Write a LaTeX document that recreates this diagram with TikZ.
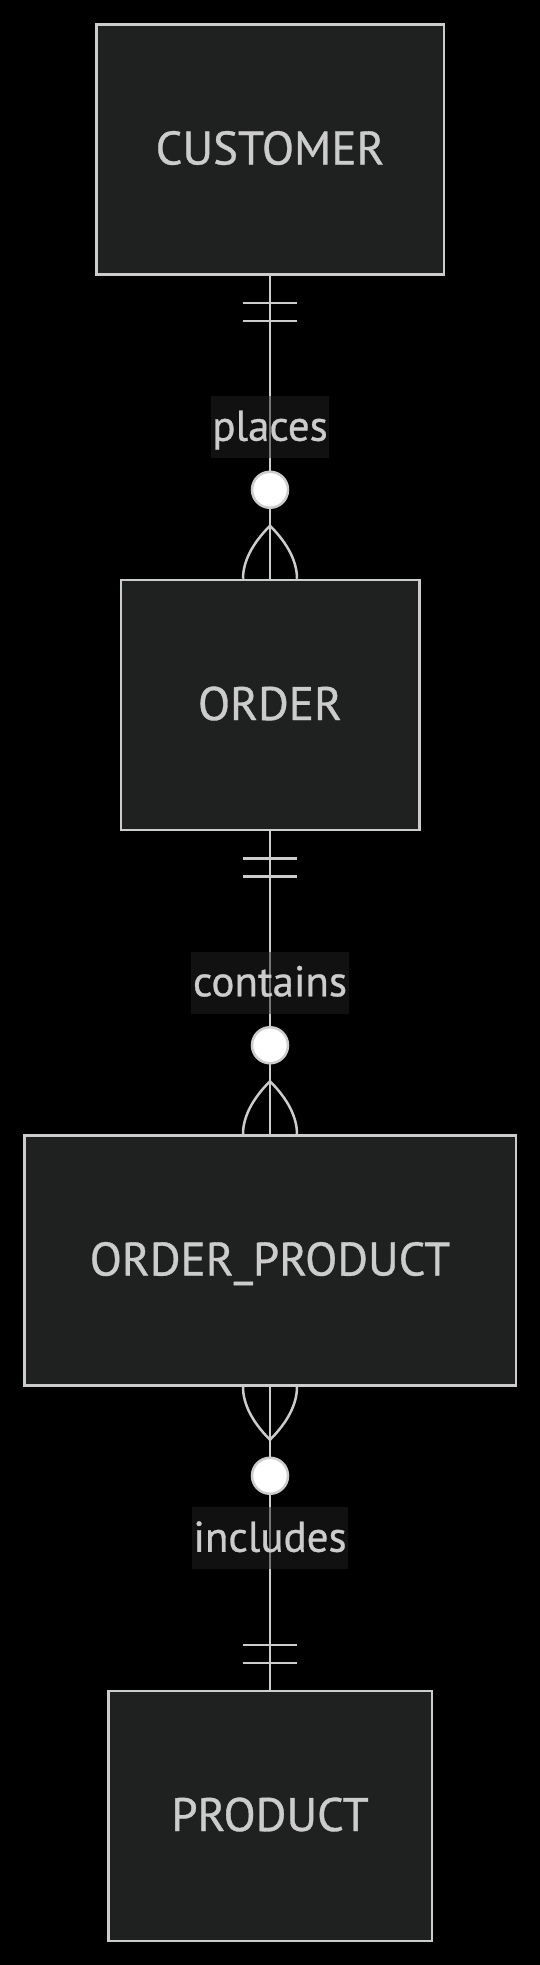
\documentclass[tikz,border=0pt]{standalone}
\usepackage{fontspec}
\setmainfont{PT Sans}
\newfontfamily\erfont{PT Sans}[FakeBold=0.7]
\definecolor{erline}{HTML}{CCCCCC}
\definecolor{erfill}{HTML}{1F2020}
\definecolor{ertext}{HTML}{CCCCCC}
\definecolor{erlabel}{HTML}{222222}
\begin{document}
\begin{tikzpicture}[x=1pt,y=1pt,yscale=-1,
	entity/.style={draw=erline,fill=erfill,line width=2.5pt,text=ertext,font=\erfont\fontsize{47}{56}\selectfont,text height=30pt,text depth=0pt,minimum height=250pt,inner sep=0pt},
	relline/.style={draw=erline,line width=2.5pt},
	rellabel/.style={fill=erlabel,fill opacity=0.5,text opacity=1,text=ertext,font=\erfont\fontsize{43}{52}\selectfont,text height=27pt,text depth=0pt,minimum height=62pt,inner xsep=1.5pt,inner ysep=0pt},
	onlyone/.pic={\draw [relline] (-27,27) -- (27,27) (-27,45) -- (27,45);},
	zeromany/.pic={\draw [relline] (-27,0) .. controls (-27,17) and (-18,35) .. (0,53) .. controls (18,35) and (27,17) .. (27,0);
		\draw [relline,fill=white] (0,89) circle (18);}]
			%set diagram page, black background
			\fill [black] (0,0) rectangle (540,1965);
			\useasboundingbox (0,0) rectangle (540,1965);
			
			%Shape: Rectangle [CUSTOMER]
			\draw (270,149.5) node [entity,minimum width=347.5pt] (cust) {CUSTOMER};
			%Shape: Rectangle [ORDER]
			\draw (270,705) node [entity,minimum width=298.5pt] (ord) {ORDER};
			%Shape: Rectangle [ORDER_PRODUCT]
			\draw (270,1260.5) node [entity,minimum width=491.5pt] (ordprod) {ORDER\_PRODUCT};
			%Shape: Rectangle [PRODUCT]
			\draw (270,1816) node [entity,minimum width=323.5pt] (prod) {PRODUCT};
			
			%Straight Lines + Text Node
			\draw [relline] (cust.south) -- node [rellabel] (lplaces) {places} (ord.north);
			%Straight Lines + Text Node
			\draw [relline] (ord.south) -- node [rellabel] (lcontains) {contains} (ordprod.north);
			%Straight Lines + Text Node
			\draw [relline] (ordprod.south) -- node [rellabel] (lincludes) {includes} (prod.north);
			
			%Markers (pics point up by default, so the ones below a box are turned)
			\pic [rotate=180] at (cust.south) {onlyone};
			\pic at (ord.north) {zeromany};
			\pic [rotate=180] at (ord.south) {onlyone};
			\pic at (ordprod.north) {zeromany};
			\pic [rotate=180] at (ordprod.south) {zeromany};
			\pic at (prod.north) {onlyone};
\end{tikzpicture}
\end{document}
